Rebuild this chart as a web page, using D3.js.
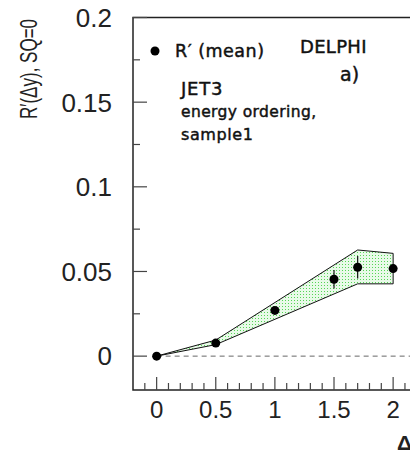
<!DOCTYPE html>
<html>
<head>
<meta charset="utf-8">
<script src="https://cdn.jsdelivr.net/npm/d3@7"></script>
<style>
  body { margin: 0; background: #fff; }
  svg { display: block; }
  .num { font-family: "Liberation Sans", Arial, sans-serif; fill: #222; }
  .txt { font-family: "DejaVu Sans", sans-serif; fill: #111; stroke: #111; stroke-width: 0.45; }
</style>
</head>
<body>
<svg id="plot" width="410" height="454"></svg>
<script>
// measured R' (mean) points
const dyVals = [0, 0.5, 1, 1.5, 1.7, 2]
const rMean = [0, 0.0077, 0.027, 0.0454, 0.0525, 0.0517]
const rErr = [0, 0.001, 0.002, 0.0055, 0.0066, 0.002]
// band edges (upper then lower)
const bandX = [0, 0.5, 1.7, 2]
const bandHi = [0, 0.0095, 0.0627, 0.0607]
const bandLo = [0, 0.0068, 0.0427, 0.0427]
const xTicks = [0, 0.5, 1, 1.5, 2]
const yTicks = [0, 0.05, 0.1, 0.15, 0.2]
const yTickLabels = ['0', '0.05', '0.1', '0.15', '0.2']

const svg = d3.select('#plot')
const x = d3.scaleLinear().domain([-0.2, 2.3]).range([133, 428.6])
const y = d3.scaleLinear().domain([-0.02, 0.2]).range([390, 17.5])

// dotted green fill
const pat = svg.append('defs').append('pattern').attr('id', 'dots')
  .attr('width', 3).attr('height', 3).attr('patternUnits', 'userSpaceOnUse')
pat.append('rect').attr('width', 3).attr('height', 3).attr('fill', '#e8fae8')
pat.append('rect').attr('width', 1).attr('height', 1).attr('fill', '#55d655')

// zero line
svg.append('line').attr('x1', x(0)).attr('x2', 410).attr('y1', y(0)).attr('y2', y(0))
  .attr('stroke', '#666').attr('stroke-width', 1).attr('stroke-dasharray', '5,4')

// band
const bandPts = bandX.map((d, i) => [x(d), y(bandHi[i])])
  .concat(bandX.map((d, i) => [x(d), y(bandLo[i])]).reverse())
svg.append('path').attr('d', d3.line()(bandPts) + 'Z')
  .attr('fill', 'url(#dots)').attr('stroke', '#111').attr('stroke-width', 1)

// frame
svg.append('path').attr('d', `M410,${y(0.2)}H${x(-0.2)}V${y(-0.02)}H410`)
  .attr('fill', 'none').attr('stroke', '#222').attr('stroke-width', 1.5)

// y ticks
d3.range(0, 0.2001, 0.025).forEach(v => {
  const major = Math.abs(v / 0.05 - Math.round(v / 0.05)) < 1e-6
  svg.append('line').attr('x1', x(-0.2)).attr('x2', x(-0.2) + (major ? 14 : 7))
    .attr('y1', y(v)).attr('y2', y(v)).attr('stroke', '#444').attr('stroke-width', 1.2)
})
svg.selectAll('.ylab').data(yTicks).enter().append('text').attr('class', 'num')
  .attr('x', 112).attr('y', d => y(d)).attr('dy', '0.36em').attr('text-anchor', 'end')
  .attr('font-size', 26).text((d, i) => yTickLabels[i])

// x ticks
d3.range(-0.1, 2.25, 0.1).forEach(v => {
  const major = Math.abs(v * 2 - Math.round(v * 2)) < 1e-6
  svg.append('line').attr('x1', x(v)).attr('x2', x(v))
    .attr('y1', y(-0.02)).attr('y2', y(-0.02) - (major ? 13 : 7))
    .attr('stroke', '#444').attr('stroke-width', 1.2)
})
svg.selectAll('.xlab').data(xTicks).enter().append('text').attr('class', 'num')
  .attr('x', d => x(d)).attr('y', 418).attr('text-anchor', 'middle')
  .attr('font-size', 24).text(d => d)

// axis titles (narrow lettering, squeezed along the text)
svg.append('text').attr('class', 'num').attr('transform', 'translate(37,69) rotate(-90) scale(0.74,1)')
  .attr('text-anchor', 'middle').attr('font-size', 23)
  .text('R\u2032(\u0394y), SQ=0')
svg.append('text').attr('class', 'num').attr('x', 397).attr('y', 450)
  .attr('font-size', 21).attr('font-weight', 'bold').text('\u0394y')

// error bars and points
svg.selectAll('.err').data(dyVals).enter().append('line')
  .attr('x1', d => x(d)).attr('x2', d => x(d))
  .attr('y1', (d, i) => y(rMean[i] + rErr[i])).attr('y2', (d, i) => y(rMean[i] - rErr[i]))
  .attr('stroke', '#111').attr('stroke-width', 1.2)
svg.selectAll('.pt').data(dyVals).enter().append('circle')
  .attr('cx', d => x(d)).attr('cy', (d, i) => y(rMean[i])).attr('r', 4.5).attr('fill', '#000')

// legend and labels
svg.append('circle').attr('cx', 155).attr('cy', 51).attr('r', 4.5).attr('fill', '#000')
svg.append('text').attr('class', 'txt').attr('x', 175).attr('y', 57).attr('font-size', 17.5)
  .attr('letter-spacing', 0.5).text('R\u2032 (mean)')
svg.append('text').attr('class', 'txt').attr('x', 300).attr('y', 53).attr('font-size', 18)
  .attr('letter-spacing', 0.3).text('DELPHI')
svg.append('text').attr('class', 'txt').attr('x', 340).attr('y', 81).attr('font-size', 19).text('a)')
svg.append('text').attr('class', 'txt').attr('x', 181).attr('y', 95).attr('font-size', 18)
  .attr('letter-spacing', 0.8).text('JET3')
svg.append('text').attr('class', 'txt').attr('x', 181).attr('y', 117).attr('font-size', 15.5)
  .attr('letter-spacing', 0.4).text('energy ordering,')
svg.append('text').attr('class', 'txt').attr('x', 181).attr('y', 140).attr('font-size', 16)
  .attr('letter-spacing', 0.6).text('sample1')
</script>
</body>
</html>
